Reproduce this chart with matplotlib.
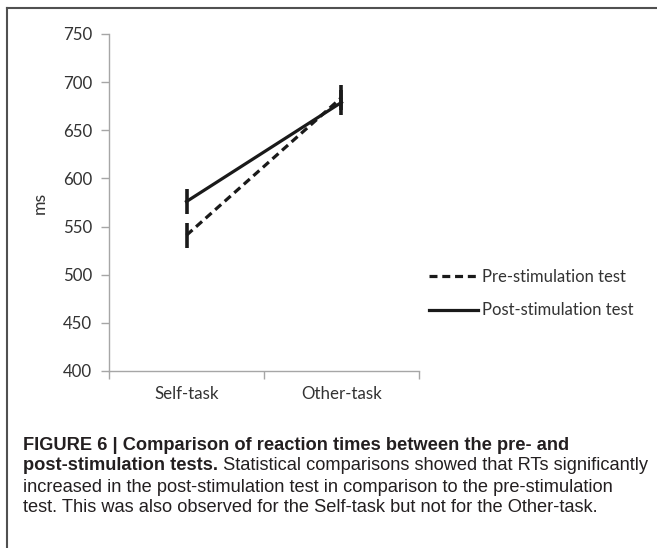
import numpy as np
import matplotlib
matplotlib.use("Agg")
import matplotlib.pyplot as plt
from matplotlib.lines import Line2D

# Données
categories = ["Self-task", "Other-task"]
pre_means = [541, 684]
post_means = [576, 679]
pre_err = [13, 13]
post_err = [13, 13]
series_names = ["Pre-stimulation test", "Post-stimulation test"]
y_ticks = [400, 450, 500, 550, 600, 650, 700, 750]

caption_bold_1 = "FIGURE 6 | Comparison of reaction times between the pre- and"
caption_bold_2 = "post-stimulation tests."
caption_rest_2 = " Statistical comparisons showed that RTs significantly"
caption_line_3 = "increased in the post-stimulation test in comparison to the pre-stimulation"
caption_line_4 = "test. This was also observed for the Self-task but not for the Other-task."

W, H = 657, 548
fig = plt.figure(figsize=(W / 100, H / 100), dpi=100)
fig.patch.set_facecolor("white")

ax = fig.add_axes([109 / W, 1 - 371 / H, 310 / W, 337 / H])

axis_grey = "#a6a6a6"
label_grey = "#333333"
line_col = "#1a1a1a"
tick_size = 12.2

x = np.arange(len(categories)) + 0.5

ax.errorbar(x, pre_means, yerr=pre_err, color=line_col, lw=2.3, ls=(0, (2.5, 1.5)),
            elinewidth=2.6, capsize=0, label=series_names[0])
ax.errorbar(x, post_means, yerr=post_err, color=line_col, lw=2.3, ls="-",
            elinewidth=2.6, capsize=0, label=series_names[1])

ax.set_xlim(0, len(categories))
ax.set_ylim(min(y_ticks), max(y_ticks))
ax.set_yticks(y_ticks)
ax.set_xticks(np.arange(len(categories) + 1))
ax.set_xticklabels([])
ax.set_xticks(x, minor=True)
ax.set_xticklabels(categories, minor=True)

for side in ["top", "right"]:
    ax.spines[side].set_visible(False)
for side in ["left", "bottom"]:
    ax.spines[side].set_color(axis_grey)
    ax.spines[side].set_linewidth(1.0)

ax.tick_params(axis="both", which="major", color=axis_grey, length=6, width=1.0,
               labelcolor=label_grey, labelsize=tick_size)
ax.tick_params(axis="y", pad=6)
ax.tick_params(axis="x", which="minor", length=0, pad=11, labelcolor=label_grey,
               labelsize=tick_size)
for lab in ax.get_yticklabels() + ax.get_xticklabels(minor=True):
    lab.set_fontfamily("Lato")

ax.set_ylabel("ms", fontsize=tick_size + 0.5, color=label_grey, family="Lato", labelpad=11)

handles = [Line2D([], [], color=line_col, lw=2.3, ls=(0, (2.5, 1.5))),
           Line2D([], [], color=line_col, lw=2.3, ls="-")]
leg = fig.legend(handles, series_names, loc="upper left",
                 bbox_to_anchor=(414 / W, 1 - 254 / H), frameon=False,
                 handlelength=2.95, handletextpad=0.25, labelspacing=1.05,
                 prop={"family": "Lato", "size": 12})
for t in leg.get_texts():
    t.set_color(label_grey)

# Cadre de la figure (haut et gauche seulement)
fig.add_artist(Line2D([7 / W, 1], [1 - 8 / H, 1 - 8 / H], transform=fig.transFigure,
                      color="#505050", lw=1.5))
fig.add_artist(Line2D([7 / W, 7 / W], [0, 1 - 8 / H], transform=fig.transFigure,
                      color="#505050", lw=1.5))

# Légende de la figure
cap_col = "#231f20"
cap_font = "Liberation Sans"
cap_size = 13.15
x0 = 23 / W
fig.text(x0, 1 - 445 / H, caption_bold_1, fontsize=cap_size, family=cap_font,
         weight="bold", color=cap_col, va="center")
t_bold = fig.text(x0, 1 - 466 / H, caption_bold_2, fontsize=cap_size, family=cap_font,
                  weight="bold", color=cap_col, va="center")
fig.canvas.draw()
bb = t_bold.get_window_extent(renderer=fig.canvas.get_renderer())
fig.text(bb.x1 / W, 1 - 466 / H, caption_rest_2, fontsize=cap_size, family=cap_font,
         color=cap_col, va="center")
fig.text(x0, 1 - 487 / H, caption_line_3, fontsize=cap_size, family=cap_font,
         color=cap_col, va="center")
fig.text(x0, 1 - 508 / H, caption_line_4, fontsize=cap_size, family=cap_font,
         color=cap_col, va="center")

fig.savefig("out.png", dpi=100)
